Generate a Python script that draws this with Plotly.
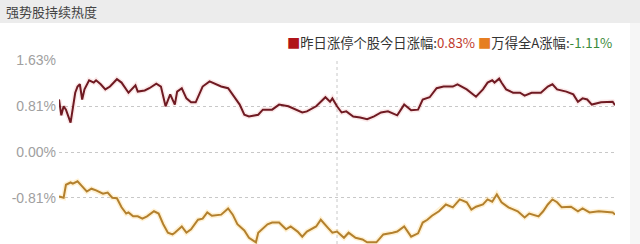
import plotly.graph_objects as go

# minutes since open (0..240, 120 = midday break)
red_minutes = [0, 1, 2, 3, 5, 7, 8, 9, 10, 11, 13, 15, 16, 18, 20, 22, 25, 27, 30, 33, 34, 37, 39, 42, 44,
               46, 48, 50, 51, 53, 55, 57, 59, 62, 65, 70, 73, 78, 80, 82, 86, 88, 92, 95, 99, 102, 105,
               107, 111, 113, 115, 117, 118, 120, 122, 124, 127, 130, 133, 136, 139, 142, 146, 149, 152,
               155, 157, 160, 163, 166, 170, 172, 176, 180, 183, 185, 187, 188, 190, 191, 193, 196, 199,
               201, 204, 208, 211, 213, 215, 219, 222, 224, 226, 228, 230, 234, 237, 239, 240]
red_values = [0.93, 0.65, 0.81, 0.75, 0.52, 1.05, 1.16, 1.20, 0.93, 1.11, 1.27, 1.23, 1.27, 1.20, 1.11,
              1.16, 1.29, 1.23, 1.05, 1.18, 1.07, 1.09, 1.13, 1.21, 1.16, 0.81, 1.02, 0.84, 1.07, 1.13,
              0.95, 0.88, 0.88, 1.16, 1.25, 1.16, 1.13, 0.84, 0.66, 0.63, 0.66, 0.75, 0.75, 0.84, 0.81,
              0.75, 0.70, 0.72, 0.81, 0.89, 0.97, 0.89, 0.95, 0.81, 0.70, 0.72, 0.63, 0.61, 0.58, 0.63,
              0.70, 0.72, 0.65, 0.84, 0.74, 0.75, 0.93, 0.97, 1.13, 1.16, 1.16, 1.20, 1.11, 0.98, 1.11,
              1.23, 1.27, 1.23, 1.30, 1.23, 1.11, 1.05, 1.05, 1.00, 1.05, 1.05, 1.16, 1.20, 1.11, 1.07,
              1.02, 0.89, 0.95, 0.93, 0.84, 0.88, 0.88, 0.89, 0.83]

orange_minutes = [0, 2, 3, 5, 6, 8, 10, 12, 14, 16, 19, 21, 23, 25, 27, 29, 30, 32, 34, 36, 38, 41, 43,
                  45, 47, 49, 50, 53, 55, 57, 60, 62, 64, 66, 70, 73, 75, 77, 80, 82, 85, 86, 90, 92, 95,
                  98, 100, 103, 105, 107, 111, 113, 116, 118, 120, 123, 125, 128, 131, 133, 137, 140, 144,
                  146, 149, 152, 155, 157, 159, 161, 164, 167, 170, 173, 176, 178, 180, 183, 185, 187, 189,
                  191, 194, 198, 201, 203, 207, 209, 211, 213, 215, 217, 221, 224, 226, 229, 233, 237, 239, 240]
orange_values = [-0.79, -0.81, -0.58, -0.54, -0.56, -0.52, -0.61, -0.70, -0.65, -0.68, -0.74, -0.72,
                 -0.81, -0.82, -0.98, -1.09, -1.07, -1.14, -1.14, -1.18, -1.14, -1.05, -1.09, -1.28,
                 -1.43, -1.46, -1.43, -1.32, -1.43, -1.37, -1.20, -1.18, -1.07, -1.13, -1.11, -1.00,
                 -1.11, -1.28, -1.39, -1.52, -1.60, -1.43, -1.28, -1.25, -1.25, -1.37, -1.32, -1.41,
                 -1.50, -1.41, -1.32, -1.20, -1.34, -1.43, -1.41, -1.52, -1.43, -1.52, -1.55, -1.60,
                 -1.60, -1.46, -1.43, -1.41, -1.32, -1.50, -1.44, -1.25, -1.20, -1.13, -1.05, -0.93,
                 -0.98, -0.84, -0.89, -1.02, -0.97, -0.93, -0.84, -0.88, -0.75, -0.89, -0.98, -1.05,
                 -1.16, -1.09, -1.14, -1.05, -0.93, -0.84, -0.89, -0.98, -0.97, -1.05, -1.00, -1.07,
                 -1.05, -1.07, -1.07, -1.11]

tick_vals = [1.63, 0.81, 0.0, -0.81, -1.63]
tick_text = ["1.63%", "0.81%", "0.00%", "-0.81%", "-1.63%"]

title_text = "强势股持续热度"
red_name = "昨日涨停个股今日涨幅:"
orange_name = "万得全A涨幅:"
red_last = "0.83%"
orange_last = "-1.11%"

RED = "#6f1a22"
ORANGE = "#b3802e"
FONT = "Noto Sans CJK SC, Liberation Sans, Arial, sans-serif"

fig = go.Figure()
# soft glow under the lines
fig.add_trace(go.Scatter(x=red_minutes, y=red_values, mode="lines",
                         line=dict(color="rgba(230,110,110,0.15)", width=5), hoverinfo="skip"))
fig.add_trace(go.Scatter(x=orange_minutes, y=orange_values, mode="lines",
                         line=dict(color="rgba(255,200,80,0.25)", width=5), hoverinfo="skip"))
fig.add_trace(go.Scatter(x=red_minutes, y=red_values, mode="lines", name=red_name,
                         line=dict(color=RED, width=2)))
fig.add_trace(go.Scatter(x=orange_minutes, y=orange_values, mode="lines", name=orange_name,
                         line=dict(color=ORANGE, width=2)))

# midday separator
fig.add_shape(type="line", xref="x", yref="paper", x0=120, x1=120, y0=0, y1=1.0,
              line=dict(color="#c8c8c8", width=1, dash="dot"), layer="below")
# header bar
fig.add_shape(type="rect", xref="paper", yref="paper", x0=-0.2, x1=1.1,
              y0=(244 - 23) / 184, y1=(244 + 5) / 184, fillcolor="#ececec",
              line=dict(width=0), layer="below")
# right edge strip
fig.add_shape(type="rect", xref="paper", yref="paper", x0=(630 - 59) / 556, x1=(641 - 59) / 556,
              y0=-0.1, y1=(244 - 23) / 184, fillcolor="#f6f6f6", line=dict(width=0), layer="below")

fig.add_annotation(xref="paper", yref="paper", x=(4 - 59) / 556, y=(244 - 12) / 184,
                   xanchor="left", yanchor="middle", showarrow=False,
                   text=title_text, font=dict(size=13, color="#444444", family=FONT))

legend_html = (f"<span style='color:#b0141a'>■</span>"
               f"<span style='color:#333333'>{red_name}</span>"
               f"<span style='color:#c0392b'>{red_last}</span> "
               f"<span style='color:#e67e22'>■</span>"
               f"<span style='color:#333333'>{orange_name}</span>"
               f"<span style='color:#3a8a3a'>{orange_last}</span>")
fig.add_annotation(xref="paper", yref="paper", x=(614 - 59) / 556, y=(244 - 42) / 184,
                   xanchor="right", yanchor="middle", showarrow=False,
                   text=legend_html, font=dict(size=13.3, family=FONT))

fig.update_layout(
    width=640, height=244,
    margin=dict(l=59, r=25, t=60, b=0),
    paper_bgcolor="white", plot_bgcolor="white",
    showlegend=False,
    font=dict(family=FONT),
    xaxis=dict(range=[0, 240], showgrid=False, zeroline=False, showticklabels=False,
               showline=False, ticks=""),
    yaxis=dict(range=[-1.63, 1.63], tickvals=tick_vals, ticktext=tick_text,
               showgrid=True, gridcolor="#c8c8c8", griddash="dot", gridwidth=1,
               zeroline=False, showline=False, ticks="",
               tickfont=dict(size=14, color="#a0a0a0", family="Liberation Sans, Arial, sans-serif"),
               ticklabelstandoff=2),
)

fig.write_html("out.html")
